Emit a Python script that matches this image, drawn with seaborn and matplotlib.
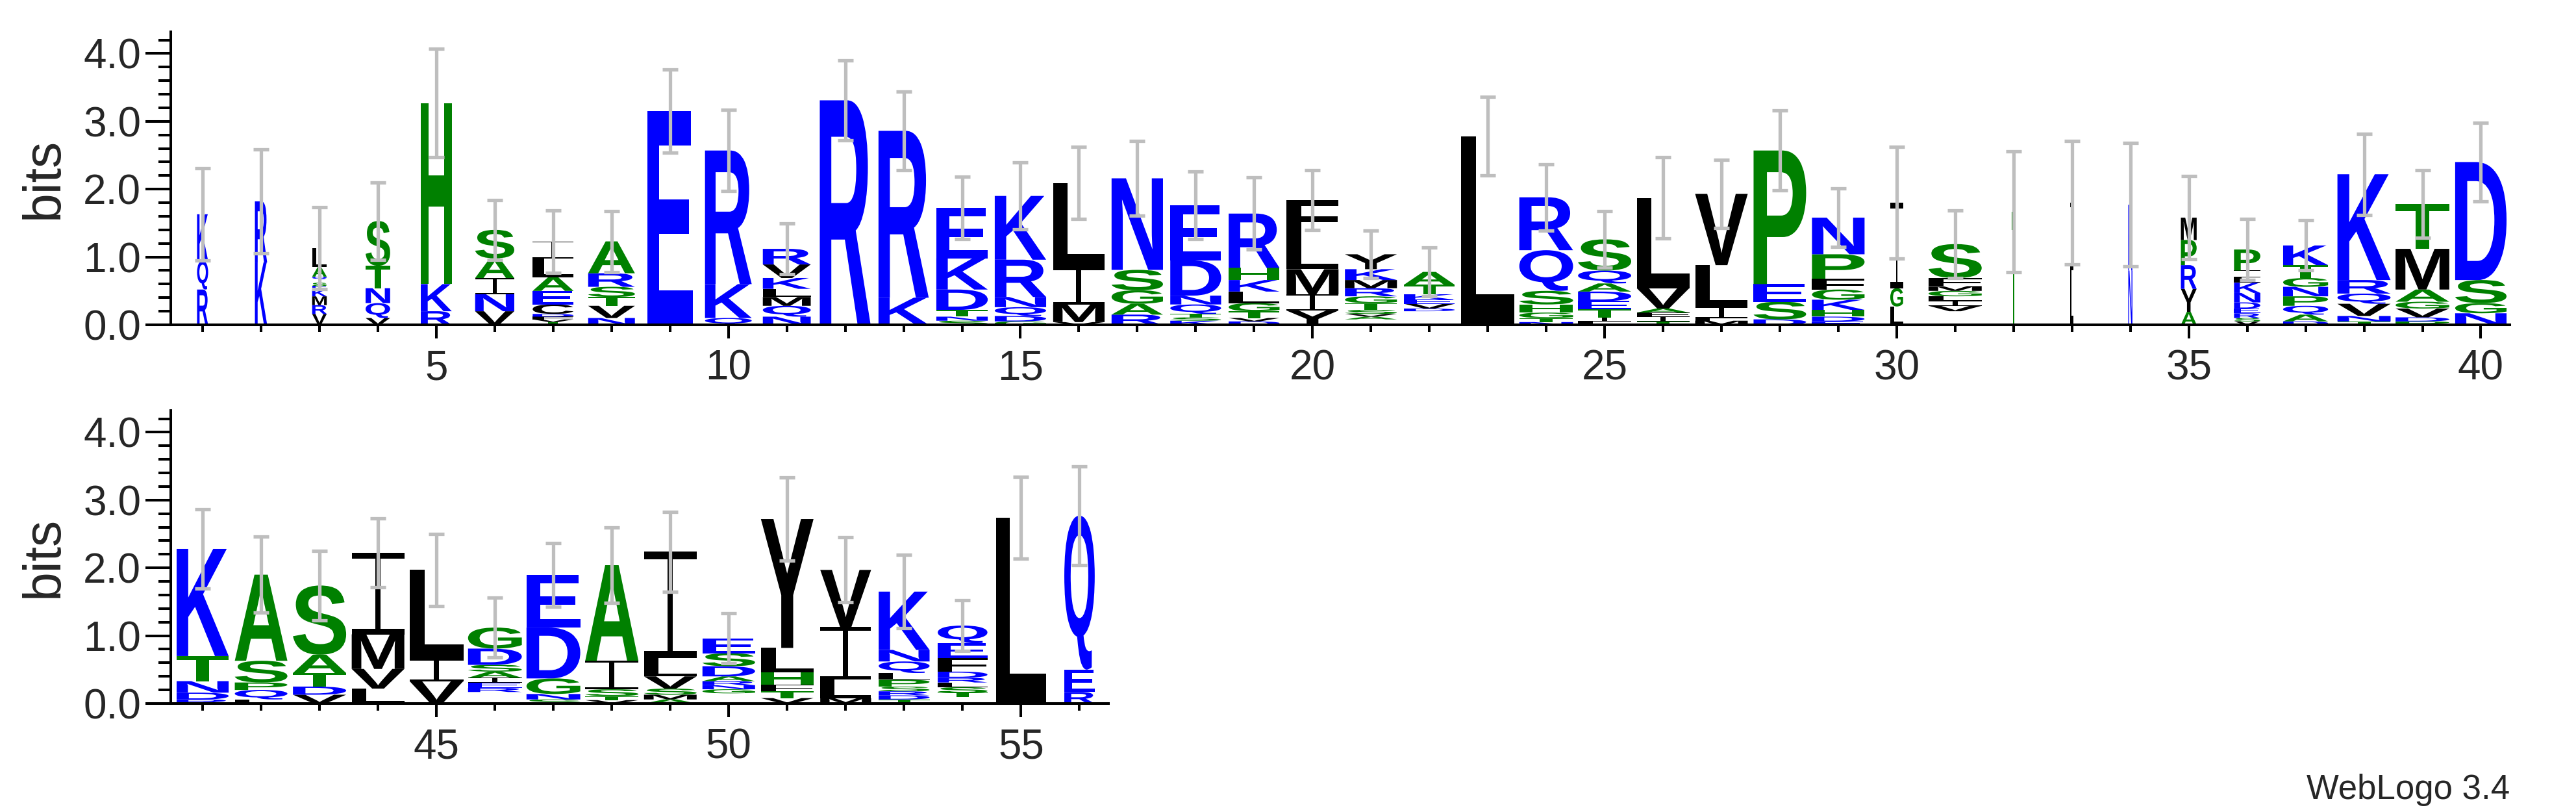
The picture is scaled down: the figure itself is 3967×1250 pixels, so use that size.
import numpy as np
import pandas as pd
import matplotlib
matplotlib.use("Agg")
import matplotlib.pyplot as plt
import seaborn as sns
from matplotlib.textpath import TextPath
from matplotlib.font_manager import FontProperties
from matplotlib.patches import PathPatch
from matplotlib.path import Path
from matplotlib.transforms import Affine2D
from matplotlib.ticker import MultipleLocator, FormatStrFormatter

# ---------------- data (letters listed bottom -> top; '.' = unresolved minor residues) ----------------
positions = list(range(1, 57))

stack_letters = [
    "RQK", "KR", "VRMKESIQAL", "VQNTS", "RKH", "VNIAS", "TVFDCEALI", "NVTSRA",
    "E", "QKR", "NQMLKVR", "R", "KR", "SNTDKE", "GDQNRK", "VMIL",
    "RAGSN", "KSTQNDE", "DVTGLKHR", "YIMLF", ".AVSTGRMKY", ".DVEKTA", "L", "NTGHSQR",
    "LITEDAQS", "TIFAVL", "MFILV", "DSEP", "EDHKGFPN", "LGI", ".VILGMFS", "T",
    "LI", "NK", "AYRPM", "VSREDNKLIP", "DAQPNGTK", "TNVQRK", "PDVGAMT", "NGSD",
    "RDNTK", "LQPSA", "VDTAS", "LVMI", "VIL", ".REIASDG", "SNGDE", "VTSIA",
    "AMSVLI", ".GNRADSE", "VTFHLY", "MLIV", "TDRSPLQNK", ".TSLRDFEQ", "L", "REQ",
]

stack_heights = [
    [0.52, 0.42, 0.69], [0.92, 0.90],
    [0.16, 0.13, 0.13, 0.10, 0.05, 0.05, 0.05, 0.04, 0.14, 0.28],
    [0.10, 0.22, 0.22, 0.33, 0.66], [0.20, 0.40, 2.67], [0.20, 0.25, 0.24, 0.29, 0.42],
    [0.04, 0.04, 0.04, 0.04, 0.14, 0.20, 0.20, 0.28, 0.25],
    [0.10, 0.18, 0.13, 0.15, 0.20, 0.47],
    [3.15], [0.10, 0.50, 1.97], [0.12, 0.16, 0.13, 0.12, 0.16, 0.20, 0.23], [3.31],
    [0.40, 2.46], [0.06, 0.06, 0.10, 0.30, 0.46, 0.74], [0.05, 0.08, 0.13, 0.15, 0.55, 0.94],
    [0.04, 0.26, 0.54, 1.25],
    [0.15, 0.16, 0.20, 0.30, 1.35], [0.06, 0.05, 0.05, 0.14, 0.13, 0.52, 0.81],
    [0.05, 0.05, 0.10, 0.12, 0.17, 0.17, 0.18, 0.80], [0.21, 0.24, 0.37, 0.50, 0.52],
    [0.08, 0.04, 0.04, 0.06, 0.10, 0.10, 0.12, 0.12, 0.16, 0.22],
    [0.20, 0.04, 0.07, 0.06, 0.08, 0.14, 0.19], [2.78],
    [0.04, 0.06, 0.08, 0.12, 0.20, 0.60, 0.78],
    [0.05, 0.06, 0.12, 0.12, 0.14, 0.12, 0.19, 0.46], [0.05, 0.07, 0.06, 0.06, 0.30, 1.33],
    [0.06, 0.04, 0.16, 0.62, 1.05], [0.08, 0.26, 0.26, 1.97],
    [0.05, 0.07, 0.10, 0.15, 0.15, 0.16, 0.36, 0.54], [0.27, 0.27, 1.26],
    [0.20, 0.08, 0.07, 0.07, 0.08, 0.07, 0.12, 0.50], [1.67],
    [0.80, 1.00], [0.80, 0.97], [0.19, 0.34, 0.35, 0.37, 0.33],
    [0.05, 0.05, 0.07, 0.07, 0.09, 0.14, 0.15, 0.08, 0.10, 0.31],
    [0.05, 0.10, 0.13, 0.14, 0.14, 0.13, 0.19, 0.29], [0.05, 0.08, 0.18, 0.15, 0.20, 1.56],
    [0.05, 0.06, 0.13, 0.10, 0.18, 0.60, 0.66], [0.17, 0.15, 0.34, 1.74],
    [0.06, 0.10, 0.17, 0.37, 1.58], [0.06, 0.14, 0.11, 0.32, 1.27],
    [0.13, 0.12, 0.20, 0.27, 1.02], [0.22, 0.29, 0.51, 1.20], [0.33, 0.33, 1.31],
    [0.17, 0.06, 0.08, 0.07, 0.09, 0.10, 0.24, 0.31], [0.06, 0.08, 0.23, 0.75, 0.78],
    [0.05, 0.06, 0.10, 0.42, 1.41],
    [0.06, 0.07, 0.09, 0.18, 0.27, 1.57], [0.15, 0.06, 0.06, 0.06, 0.07, 0.15, 0.19, 0.22],
    [0.08, 0.10, 0.10, 0.18, 0.36, 1.90], [0.08, 0.27, 0.78, 0.84],
    [0.06, 0.06, 0.06, 0.07, 0.10, 0.10, 0.17, 0.17, 0.86],
    [0.10, 0.06, 0.08, 0.07, 0.07, 0.09, 0.20, 0.22, 0.26], [2.74], [0.17, 0.33, 2.27],
]

# visible stack width (fraction of one position), scaled by column occupancy
stack_width = [
    0.19, 0.21, 0.25, 0.42, 0.53, 0.67, 0.70, 0.80, 0.78, 0.80, 0.82, 0.87, 0.86, 0.88,
    0.88, 0.88, 0.88, 0.87, 0.87, 0.89, 0.89, 0.87, 0.91, 0.92, 0.91, 0.90, 0.90, 0.90,
    0.90, 0.22, 0.91, 0.07, 0.06, 0.07, 0.27, 0.45, 0.77, 0.91, 0.92, 0.88,
    0.89, 0.90, 0.91, 0.90, 0.92, 0.92, 0.92, 0.91, 0.90, 0.90, 0.90, 0.87, 0.87, 0.85,
    0.86, 0.52,
]

# small-sample error (bits, +/-)
stack_error = [
    0.68, 0.77, 0.60, 0.57, 0.80, 0.44, 0.46, 0.45, 0.61, 0.60, 0.37, 0.59, 0.58, 0.46,
    0.49, 0.53, 0.55, 0.50, 0.53, 0.44, 0.35, 0.36, 0.58, 0.49, 0.42, 0.60, 0.50, 0.59,
    0.43, 0.82, 0.50, 0.89, 0.91, 0.91, 0.61, 0.45, 0.37, 0.60, 0.50, 0.58,
    0.58, 0.56, 0.51, 0.51, 0.53, 0.44, 0.47, 0.56, 0.59, 0.37, 0.61, 0.48, 0.54, 0.37,
    0.60, 0.73,
]

hydrophilic = "RKDENQ"
neutral = "SGHTAP"
hydrophobic = "YVMCLFIW"
palette = {"hydrophilic": "#0000FF", "neutral": "#008000", "hydrophobic": "#000000"}

row_ranges = [(1, 40), (41, 56)]
ymax = 4.32

# ---------------- helpers ----------------
sns.set_theme(style="ticks")
plt.rcParams["font.family"] = ["Liberation Sans", "DejaVu Sans"]

glyph_font = FontProperties(family="Liberation Sans", weight="bold")
_I_path = Path(
    [(0, 0), (1, 0), (1, .07), (.55, .07), (.55, .93), (1, .93), (1, 1), (0, 1),
     (0, .93), (.45, .93), (.45, .07), (0, .07), (0, 0)],
    [Path.MOVETO] + [Path.LINETO] * 11 + [Path.CLOSEPOLY],
)
_glyph_cache = {}


def glyph(ch):
    if ch not in _glyph_cache:
        if ch == "I":
            p = _I_path
        else:
            p = TextPath((0, 0), ch, size=1, prop=glyph_font)
        ext = p.get_extents()
        _glyph_cache[ch] = (p, ext)
    return _glyph_cache[ch]


def colour(ch):
    if ch in hydrophilic:
        return palette["hydrophilic"]
    if ch in neutral:
        return palette["neutral"]
    return palette["hydrophobic"]


def draw_letter(ax, ch, xc, y0, w, h):
    p, ext = glyph(ch)
    t = (Affine2D().translate(-ext.x0, -ext.y0)
         .scale(w / ext.width, h / ext.height)
         .translate(xc - w / 2, y0))
    patch = PathPatch(t.transform_path(p), facecolor=colour(ch), edgecolor="none",
                      lw=0, zorder=2)
    ax.add_patch(patch)


# ---------------- figure ----------------
W, H = 3967, 1250
fig = plt.figure(figsize=(W / 100, H / 100), dpi=100)
fig.patch.set_facecolor("white")

axes_px = [(263, 500, 3602), (263, 1083, 1444)]  # left, baseline y, width (pixels)
ax_h = 451

err_df = pd.DataFrame({
    "position": positions,
    "top": [sum(h) for h in stack_heights],
    "error": stack_error,
})

for (lo, hi), (lx, by, wpx) in zip(row_ranges, axes_px):
    ax = fig.add_axes([lx / W, (H - by) / H, wpx / W, ax_h / H])
    ax.set_facecolor("white")
    for i in range(lo - 1, hi):
        x = positions[i]
        y = 0.0
        w = stack_width[i]
        for ch, h in zip(stack_letters[i], stack_heights[i]):
            if ch != ".":
                draw_letter(ax, ch, x, y, w, h)
            y += h
    sub = err_df[(err_df.position >= lo) & (err_df.position <= hi)]
    ax.errorbar(sub["position"], sub["top"], yerr=sub["error"], fmt="none",
                ecolor="#BEBEBE", elinewidth=3.8, capsize=8.5, capthick=3.8, zorder=3)

    ax.set_xlim(lo - 0.545, hi + 0.495)
    ax.set_ylim(0, ymax)
    sns.despine(ax=ax)
    for s in ("left", "bottom"):
        ax.spines[s].set_linewidth(2.9)
        ax.spines[s].set_color("black")
    ax.xaxis.set_major_locator(MultipleLocator(5))
    ax.xaxis.set_minor_locator(MultipleLocator(1))
    ax.yaxis.set_major_locator(MultipleLocator(1))
    ax.yaxis.set_minor_locator(MultipleLocator(0.2))
    ax.yaxis.set_major_formatter(FormatStrFormatter("%.1f"))
    ax.tick_params(axis="x", which="major", length=15, width=2.9, labelsize=46, pad=12,
                   direction="out", color="black")
    ax.tick_params(axis="x", which="minor", length=8, width=2.9, direction="out", color="black")
    ax.tick_params(axis="y", which="major", length=28, width=2.9, labelsize=46, pad=5,
                   direction="out", color="black")
    ax.tick_params(axis="y", which="minor", length=14, width=2.9, direction="out", color="black")
    ax.grid(False)
    fig.text(68 / W, 1 - (by - ax_h / 2) / H, "bits", rotation=90, ha="center",
             va="center", fontsize=58)

fig.text(3865 / W, 1 - 1216 / H, "WebLogo 3.4", ha="right", va="center", fontsize=38)

fig.savefig("out.png", dpi=100, facecolor="white")
